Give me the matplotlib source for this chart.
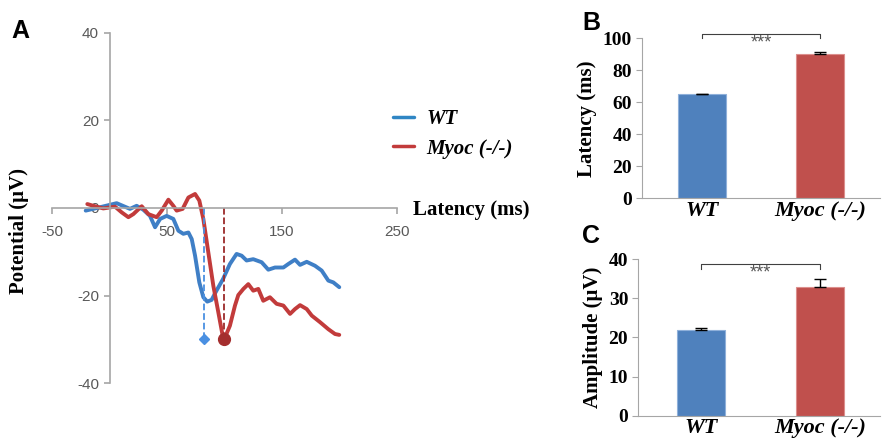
import numpy as np
import matplotlib
matplotlib.use("Agg")
import matplotlib.pyplot as plt

plt.rcParams["axes.unicode_minus"] = False

# ---- panel A: averaged traces ----
wt_t = [-20.7, -11, 6.2, 17.8, 23.6, 29.4, 35.2, 39.6, 44, 49.7, 55.5, 59.9, 64.2, 68.6,
        71.5, 74.4, 78.1, 81.6, 85, 88.8, 93, 98.8, 104.7, 110.5, 114.9, 119.2, 125,
        132.3, 138.1, 143.9, 151.2, 155.5, 161.3, 165.7, 171.5, 178.7, 184.5, 190.3,
        194.6, 199.8]
wt_v = [-0.6, 0, 1.1, -0.2, 0.5, -0.4, -1.8, -4.4, -2.5, -1.8, -2.5, -5.2, -5.9, -5.6,
        -7.1, -10.9, -17, -20.4, -21.4, -21, -18.9, -16.2, -12.8, -10.5, -10.9, -12,
        -11.7, -12.4, -14.1, -13.6, -13.6, -12.8, -11.8, -13, -12.3, -13.2, -14.3,
        -16.6, -17, -18.1]
ko_t = [-19.3, -14, -5.4, 4.8, 10.6, 16.4, 20.7, 28, 33.8, 41, 45.4, 51.2, 55.5, 58.4,
        63.6, 68.6, 74.4, 78.1, 81.6, 85.9, 90.3, 94.6, 98.4, 100.4, 104.7, 109.1, 112,
        116.4, 120.7, 125, 129.4, 133.7, 139.5, 145.3, 151.2, 157, 161.3, 165.7, 171.5,
        175.9, 183.1, 190.3, 196.1, 199.8]
ko_v = [0.9, 0.5, -0.1, 0.3, -1, -2.1, -1.4, 0.4, -1.4, -2.1, -0.6, 1.9, 0.5, -0.6,
        -0.2, 2.4, 3.2, 1.7, -2.5, -10.1, -17.8, -23.8, -29.2, -29.6, -26.9, -22.3,
        -19.9, -18.5, -17.4, -18.9, -18.5, -21.2, -20.4, -21.9, -22.3, -24.2, -23.1,
        -22.2, -23.1, -24.6, -26.1, -27.7, -28.8, -29]
peak_t = [82, 99.5]
peak_v = [-30, -30]

# ---- panels B, C ----
groups = ["WT", "Myoc (-/-)"]
latency = [65, 90]
latency_err = [0.5, 1.2]
amplitude = [22, 33]
amplitude_err = [0.5, 2.0]

blue_line = "#3f7fc6"
red_line = "#c23b3b"
blue_bar = "#4f81bd"
red_bar = "#c0504d"
axis_gray = "#a6a6a6"

serif = "Liberation Serif"
sans = "Liberation Sans"

fig = plt.figure(figsize=(8.83, 4.41), dpi=100)

# ===== A =====
ax = fig.add_axes([0.0589, 0.1315, 0.3907, 0.7937])
ax.plot(wt_t, wt_v, color=blue_line, lw=2.8, solid_capstyle="round", label="WT")
ax.plot(ko_t, ko_v, color=red_line, lw=2.8, solid_capstyle="round", label="Myoc (-/-)")
ax.plot([peak_t[0], peak_t[0]], [peak_v[0], 0], ls="--", color="#4a90e2", lw=1.3)
ax.plot([peak_t[1], peak_t[1]], [peak_v[1], 0], ls="--", color="#9b2a2a", lw=1.3)
ax.plot(peak_t[0], peak_v[0], marker="D", ms=5, color="#4a90e2", ls="none")
ax.plot(peak_t[1], peak_v[1], marker="o", ms=8.5, color="#a42e2e", ls="none")
ax.set_xlim(-50, 250)
ax.set_ylim(-40, 40)
for s in ["top", "right"]:
    ax.spines[s].set_visible(False)
ax.spines["left"].set_position(("data", 0))
ax.spines["bottom"].set_position(("data", 0))
ax.spines["left"].set_color(axis_gray)
ax.spines["bottom"].set_color(axis_gray)
ax.spines["left"].set_linewidth(1.2)
ax.spines["bottom"].set_linewidth(1.2)
ax.set_xticks([-50, 50, 150, 250])
ax.set_yticks([-40, -20, 0, 20, 40])
ax.tick_params(axis="both", colors=axis_gray, labelcolor="#595959", labelsize=11,
               length=4, width=1.2)
ax.tick_params(axis="x", pad=8)
for lab in ax.get_xticklabels() + ax.get_yticklabels():
    lab.set_family(sans)
ax.patch.set_alpha(0)
fig.text(0.021, 0.476, "Potential (\u03bcV)", rotation=90, ha="center", va="center",
         family=serif, fontweight="bold", fontsize=15)
fig.text(0.4675, 0.524, "Latency (ms)", ha="left", va="center",
         family=serif, fontweight="bold", fontsize=15)
leg = ax.legend(loc="upper left", bbox_to_anchor=(0.424, 0.795), bbox_transform=fig.transFigure,
                frameon=False, handlelength=1.0, handletextpad=0.6, labelspacing=0.45,
                prop={"family": serif, "weight": "bold", "style": "italic", "size": 15})
for h in leg.get_lines():
    h.set_linewidth(2.5)
leg.get_lines()[0].set_color("#2f86c4")

fig.text(0.013, 0.93, "A", family=sans, fontweight="bold", fontsize=18, va="center")
fig.text(0.659, 0.948, "B", family=sans, fontweight="bold", fontsize=18, va="center")
fig.text(0.659, 0.464, "C", family=sans, fontweight="bold", fontsize=18, va="center")


def bar_panel(rect, vals, errs, ymax, step, ylabel, bracket_y, tick_y, star_y, xlim):
    b = fig.add_axes(rect)
    x = np.arange(len(groups))
    b.bar(x, vals, width=0.4, color=[blue_bar, red_bar], edgecolor=["#8fb0da", "#dc8f8d"],
          linewidth=0.8, zorder=2)
    b.errorbar(x, vals, yerr=[[0, 0], errs], fmt="none", ecolor="black", elinewidth=1.0,
               capsize=4, capthick=1.0, zorder=3)
    b.plot([0, 0, 1, 1], [tick_y, bracket_y, bracket_y, tick_y], color="#404040", lw=0.8,
           clip_on=False)
    b.text(0.5, star_y, "***", ha="center", va="center", fontsize=13, color="#555555",
           family=sans, clip_on=False)
    b.set_xlim(*xlim)
    b.set_ylim(0, ymax)
    b.set_yticks(np.arange(0, ymax + 1, step))
    b.set_xticks(x)
    b.set_xticklabels(groups, family=serif, fontweight="bold", style="italic", fontsize=16)
    for s in ["top", "right"]:
        b.spines[s].set_visible(False)
    b.spines["left"].set_color(axis_gray)
    b.spines["bottom"].set_color(axis_gray)
    b.tick_params(axis="x", length=0, pad=2)
    b.tick_params(axis="y", color=axis_gray, length=4, labelsize=14, pad=3)
    for lab in b.get_yticklabels():
        lab.set_family(serif)
        lab.set_fontweight("bold")
    b.set_ylabel(ylabel, family=serif, fontweight="bold", fontsize=15, labelpad=4)
    b.patch.set_alpha(0)
    return b


bar_panel([0.7267, 0.5503, 0.27, 0.3628], latency, latency_err, 100, 20,
          "Latency (ms)", 102.7, 100, 96.8, (-0.511, 1.51))
bar_panel([0.7225, 0.0574, 0.274, 0.3546], amplitude, amplitude_err, 40, 10,
          "Amplitude (\u03bcV)", 38.9, 37.5, 36.6, (-0.53, 1.5))

fig.savefig("out.png", dpi=100)
